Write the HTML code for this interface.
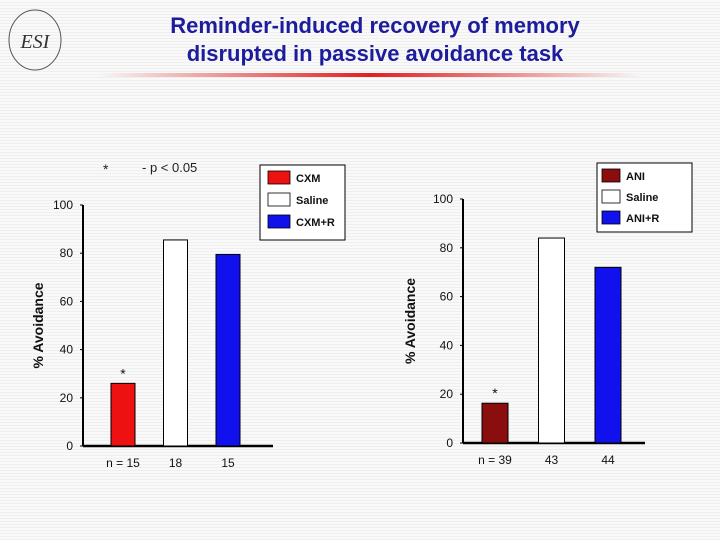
<!DOCTYPE html>
<html><head><meta charset="utf-8"><style>
body{margin:0;width:720px;height:540px;overflow:hidden;background:#f6f6f6;background-image:repeating-linear-gradient(180deg,#f9f9f9 0,#f9f9f9 2px,#efefef 2px,#efefef 3px);font-family:"Liberation Sans",sans-serif}
svg{position:absolute;left:0;top:0}
</style></head><body>
<svg width="720" height="540">
<defs><linearGradient id="g" x1="0" x2="1"><stop offset="0" stop-color="#f6f6f6"/><stop offset="0.5" stop-color="#e02020"/><stop offset="1" stop-color="#f6f6f6"/></linearGradient></defs>
<g><ellipse cx="35" cy="40" rx="26" ry="30" fill="none" stroke="#555" stroke-width="1"/><text x="35" y="48" font-family="Liberation Serif" font-style="italic" font-size="20" text-anchor="middle" fill="#333">ESI</text></g>
<text x="375" y="33" font-size="22" font-weight="bold" fill="#1c1c9c" text-anchor="middle">Reminder-induced recovery of memory</text>
<text x="375" y="61" font-size="22" font-weight="bold" fill="#1c1c9c" text-anchor="middle">disrupted in passive avoidance task</text>
<rect x="100" y="73" width="540" height="4" fill="url(#g)"/>
<text x="103" y="174" font-size="14" fill="#222">*</text>
<text x="142" y="172" font-size="13" fill="#222">- p &lt; 0.05</text>
<g id="charts"></g>
</svg>
<script>
const leftCategories=["CXM","Saline","CXM+R"];
const leftValues=[26,85.5,79.5];
const leftN=["n = 15","18","15"];
const rightCategories=["ANI","Saline","ANI+R"];
const rightValues=[16.3,84,72];
const rightN=["n = 39","43","44"];
const yTicks=[0,20,40,60,80,100];
const NS="http://www.w3.org/2000/svg";
const root=document.getElementById('charts');
function mk(t,a,txt){const e=document.createElementNS(NS,t);for(const k in a)e.setAttribute(k,a[k]);if(txt!=null)e.textContent=txt;root.appendChild(e);return e;}
function chart(cfg,cats,vals,ns,colors){
 const y=v=>cfg.y0-(v/100)*(cfg.y0-cfg.y100);
 let e=mk('line',{x1:cfg.ax,x2:cfg.ax,y1:cfg.y100,y2:cfg.y0,stroke:'#000','stroke-width':2});
 
 e=mk('line',{x1:cfg.ax,x2:cfg.axEnd,y1:cfg.y0,y2:cfg.y0,stroke:'#000','stroke-width':2.5});
 
 yTicks.forEach(t=>{
  e=mk('line',{x1:cfg.ax-3,x2:cfg.ax,y1:y(t),y2:y(t),stroke:'#000'});
  
  e=mk('text',{x:cfg.ax-10,y:y(t)+4,'font-size':12,'text-anchor':'end',fill:'#111'},t);
  
 });
 e=mk('text',{x:0,y:0,'font-size':14,'font-weight':'bold','text-anchor':'middle',fill:'#111',transform:`translate(${cfg.titleX},${(cfg.y0+cfg.y100)/2}) rotate(-90)`},'% Avoidance');
 
 vals.forEach((v,i)=>{
  const cx=cfg.x0+i*cfg.step;
  e=mk('rect',{x:cx-cfg.bw/2,y:y(v),width:cfg.bw,height:cfg.y0-y(v),fill:colors[i],stroke:'#000','stroke-width':1});
  
  e=mk('text',{x:cx,y:cfg.y0+21,'font-size':12,'text-anchor':'middle',fill:'#111'},ns[i]);
  
 });
 e=mk('text',{x:cfg.x0,y:y(vals[0])-5,'font-size':14,'text-anchor':'middle',fill:'#111'},'*');
 
 const L=cfg.leg;
 e=mk('rect',{x:L.x,y:L.y,width:L.w,height:L.h,fill:'#fff',stroke:'#000'});
 
 cats.forEach((c,i)=>{
  const yy=L.y+6+i*L.dy;
  e=mk('rect',{x:L.x+L.sx,y:yy,width:L.sw,height:13,fill:colors[i],stroke:'#000','stroke-width':0.8});
  
  e=mk('text',{x:L.x+L.sx+L.sw+6,y:yy+11,'font-size':11,'font-weight':'bold',fill:'#111'},c);
  
 });
}
chart({p:'left',ax:83,axEnd:273,y0:446,y100:205,x0:123,step:52.5,bw:24,titleX:43,
 leg:{x:260,y:165,w:85,h:75,dy:22,sx:8,sw:22}},leftCategories,leftValues,leftN,['#ee1111','#ffffff','#1111ee']);
chart({p:'right',ax:463,axEnd:645,y0:443,y100:199,x0:495,step:56.5,bw:26,titleX:415,
 leg:{x:597,y:163,w:95,h:69,dy:21,sx:5,sw:18}},rightCategories,rightValues,rightN,['#8b0e0e','#ffffff','#1111ee']);
</script>
</body></html>
